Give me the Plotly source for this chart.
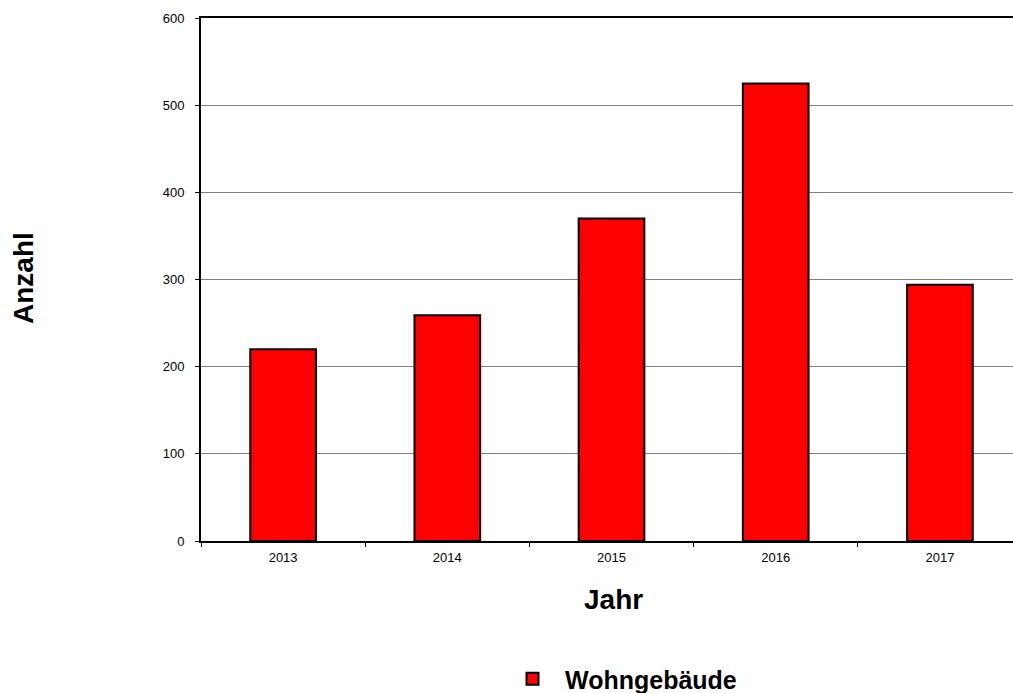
import plotly.graph_objects as go

years = ["2013", "2014", "2015", "2016", "2017"]
values = [220, 259, 370, 525, 294]
series_name = "Wohngebäude"
y_ticks = [0, 100, 200, 300, 400, 500, 600]

FONT = "Arial, Liberation Sans"

fig = go.Figure()
fig.add_trace(go.Bar(
    x=years, y=values, name=series_name,
    marker=dict(color="#FF0000", line=dict(color="black", width=2)),
    width=0.4, showlegend=True,
))

fig.update_layout(
    width=1013, height=693,
    margin=dict(l=201, r=0, t=18, b=152, autoexpand=False),
    plot_bgcolor="white", paper_bgcolor="white",
    font=dict(family=FONT, color="black", size=13),
    showlegend=True,
    legend=dict(
        x=(500 - 201) / 812, y=-(656 - 541) / 523, xanchor="left", yanchor="top",
        font=dict(size=25, family=FONT, color="black", weight="bold"),
        bgcolor="rgba(0,0,0,0)", itemwidth=55,
    ),
)
fig.update_xaxes(
    type="category", range=[-0.5, 4.445],
    showline=True, linecolor="black", linewidth=2, mirror=True,
    ticks="outside", ticklen=4, tickcolor="black", tickson="boundaries",
    showgrid=False, tickfont=dict(size=13), ticklabelstandoff=3,
    automargin=False,
)
fig.update_yaxes(
    range=[0, 600], tickvals=y_ticks,
    showline=True, linecolor="black", linewidth=2,
    ticks="outside", ticklen=4, tickcolor="black",
    showgrid=True, gridcolor="#808080", gridwidth=1,
    tickfont=dict(size=13), zeroline=False, ticklabelstandoff=8,
    automargin=False,
)
fig.add_annotation(text="<b>Anzahl</b>", x=-(201 - 23) / 812, y=(541 - 278) / 523,
                   xref="paper", yref="paper", showarrow=False, textangle=-90,
                   xanchor="center", yanchor="middle",
                   font=dict(size=28, family=FONT))
fig.add_annotation(text="<b>Jahr</b>", x=(613 - 201) / 812, y=-(600 - 541) / 523,
                   xref="paper", yref="paper", showarrow=False,
                   xanchor="center", yanchor="middle",
                   font=dict(size=28, family=FONT))

fig.write_html("out.html")
